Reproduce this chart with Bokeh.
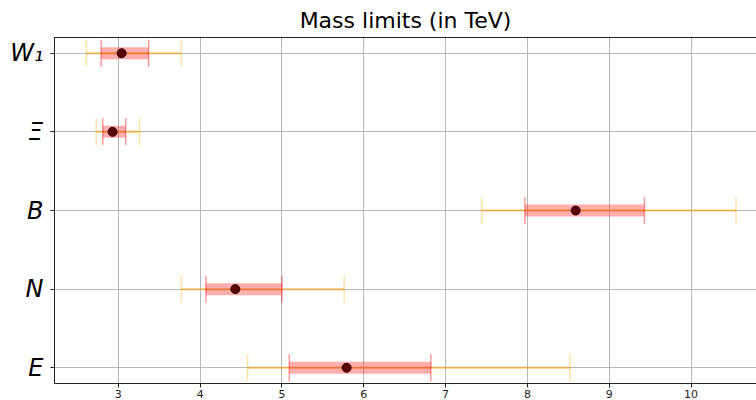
from bokeh.plotting import figure
from bokeh.models import (Range1d, FixedTicker, LinearAxis, ColumnDataSource,
                          Whisker, TeeHead, Grid)
from bokeh.embed import file_html
from bokeh.resources import INLINE

# ---- data (TeV) ----
names = ["W₁", "Ξ", "B", "N", "E"]
rows = [4, 3, 2, 1, 0]
central = [3.04, 2.93, 8.59, 4.43, 5.79]
inner_lo = [2.79, 2.81, 7.97, 4.07, 5.09]
inner_hi = [3.37, 3.09, 9.43, 5.00, 6.82]
outer_lo = [2.61, 2.73, 7.44, 3.77, 4.58]
outer_hi = [3.77, 3.26, 10.55, 5.76, 8.52]
x_ticks = [3, 4, 5, 6, 7, 8, 9, 10]

FONT = "DejaVu Sans"
X0, X1 = 2.22, 10.8
LEFT = 54

src = ColumnDataSource(dict(y=rows, c=central, ilo=inner_lo, ihi=inner_hi,
                            olo=outer_lo, ohi=outer_hi))

p = figure(width=756, height=400, output_backend="svg", toolbar_location=None,
           x_range=Range1d(X0, X1), y_range=Range1d(-0.2, 4.2),
           min_border_left=LEFT, min_border_right=0, min_border_top=0,
           min_border_bottom=0, x_axis_location=None, y_axis_location=None)
p.outline_line_color = None
p.background_fill_color = "white"
p.border_fill_color = "white"

p.title.text = "Mass limits (in TeV)"
p.title.text_font = FONT
p.title.text_font_size = "22px"
p.title.text_font_style = "normal"
p.title.align = "center"
p.title.text_color = "black"

# axes
xax = LinearAxis(ticker=FixedTicker(ticks=x_ticks))
xax.major_tick_out = 4
xax.major_tick_in = 0
xax.minor_tick_line_color = None
xax.major_label_text_font = FONT
xax.major_label_text_font_size = "11px"
xax.major_label_text_color = "#222222"
xax.major_label_standoff = 2
xax.axis_line_color = "#222222"
xax.major_tick_line_color = "#222222"
p.add_layout(xax, "below")

yax = LinearAxis(ticker=FixedTicker(ticks=rows))
yax.major_label_overrides = {r: n for r, n in zip(rows, names)}
yax.major_tick_out = 4
yax.major_tick_in = 0
yax.minor_tick_line_color = None
yax.major_label_text_font = FONT
yax.major_label_text_font_size = "24px"
yax.major_label_text_font_style = "italic"
yax.major_label_text_color = "black"
yax.major_label_standoff = 7
yax.axis_line_color = "#222222"
yax.major_tick_line_color = "#222222"
p.add_layout(yax, "left")

top = LinearAxis(ticker=FixedTicker(ticks=[]))
top.major_tick_out = 0
top.major_tick_in = 0
top.minor_tick_line_color = None
top.major_label_standoff = 0
top.axis_line_color = "#222222"
p.add_layout(top, "above")

# grids
p.add_layout(Grid(dimension=0, ticker=FixedTicker(ticks=x_ticks),
                  grid_line_color="#b8b8b8", grid_line_width=1))
p.add_layout(Grid(dimension=1, ticker=FixedTicker(ticks=rows),
                  grid_line_color="#b8b8b8", grid_line_width=1))

# outer (orange) error bars
outer = Whisker(source=src, base="y", lower="olo", upper="ohi", dimension="width",
                line_color="orange", line_alpha=0.45, line_width=2.5,
                upper_head=TeeHead(size=27, line_color="orange", line_alpha=0.35, line_width=1.5),
                lower_head=TeeHead(size=27, line_color="orange", line_alpha=0.35, line_width=1.5))
p.add_layout(outer)

# inner (red) error bars
inner = Whisker(source=src, base="y", lower="ilo", upper="ihi", dimension="width",
                line_color="red", line_alpha=0.32, line_width=12,
                upper_head=TeeHead(size=27, line_color="red", line_alpha=0.4, line_width=1.5),
                lower_head=TeeHead(size=27, line_color="red", line_alpha=0.4, line_width=1.5))
p.add_layout(inner)

p.scatter(x="c", y="y", source=src, size=9, fill_color="#5a0000",
          line_color="#2a0000", line_width=1)

open("out.html", "w").write(file_html(p, INLINE))
